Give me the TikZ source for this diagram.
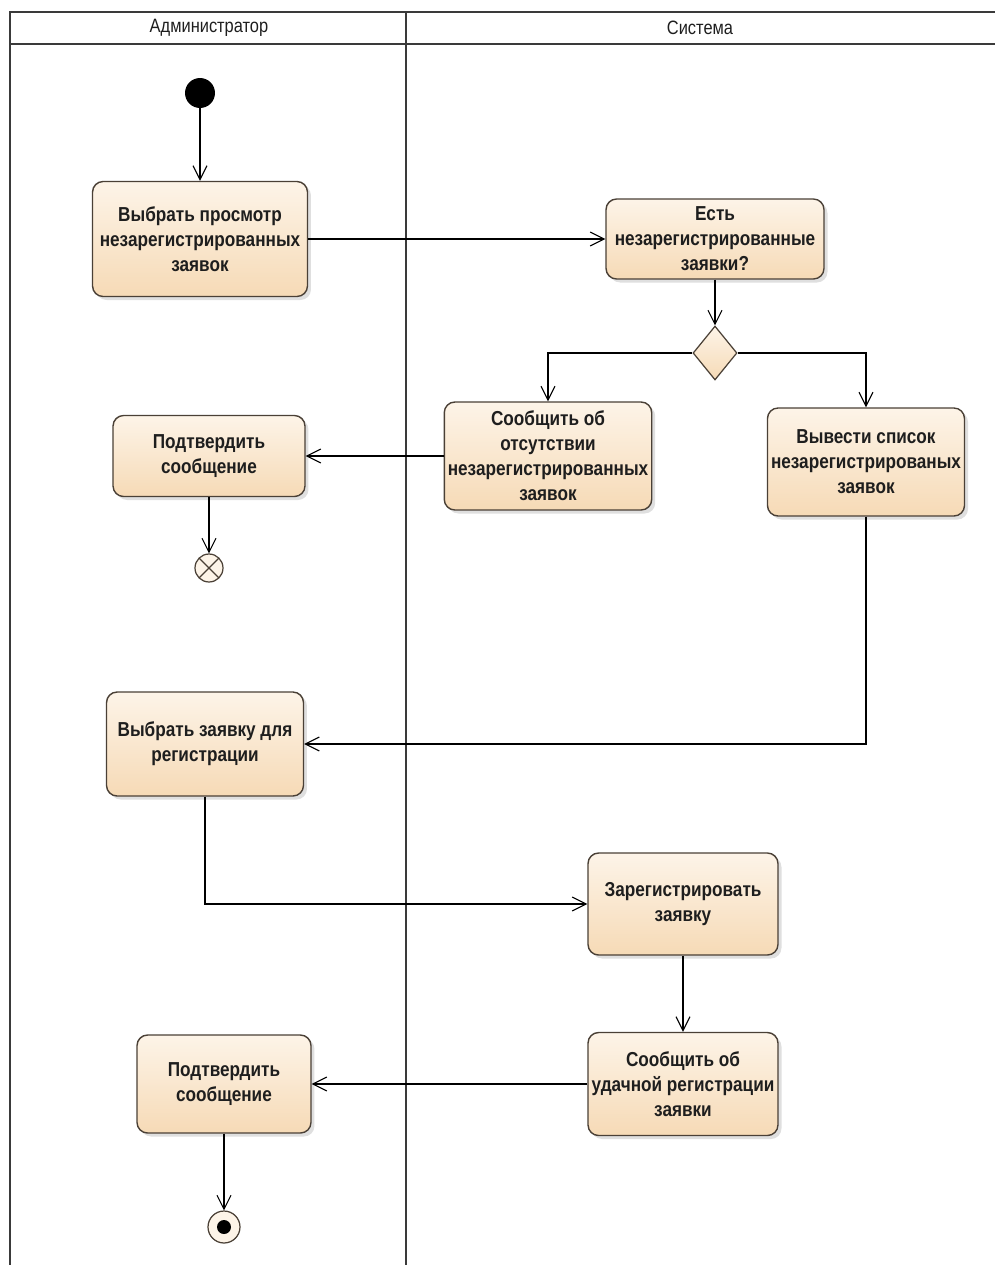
\documentclass[tikz,border=0pt]{standalone}
\usepackage{fontspec}
\setmainfont{Liberation Sans}
\newfontfamily\boxfont[FakeStretch=0.85]{Liberation Sans}
\newfontfamily\headfont[FakeStretch=0.85]{Liberation Sans}
\usetikzlibrary{arrows.meta,shapes.geometric,shadows}
\definecolor{lane}{HTML}{3A3A3A}
\definecolor{edge}{HTML}{4A4036}
\definecolor{peach}{HTML}{F6DAB6}
\definecolor{cream}{HTML}{FDF4E8}
\definecolor{ink}{HTML}{1E1E1E}
\tikzset{act/.style={draw=edge,line width=.8pt,rounded corners=6pt,top color=cream,bottom color=peach,drop shadow={shadow xshift=2pt,shadow yshift=-2pt,opacity=.25},align=center,font=\boxfont\bfseries\fontsize{11.5}{14.2}\selectfont,text=ink,inner sep=2pt},flow/.style={-{Straight Barb[length=2.8mm,width=2.8mm]},draw=black,line width=.6pt},swim/.style={draw=lane,line width=1.1pt}}

\begin{document}
\begin{tikzpicture}[x=.02cm,y=-.02cm,dec/.style={diamond,aspect=.8,draw=edge,line width=.7pt,top color=cream,bottom color=peach,minimum width=.88cm,minimum height=1.08cm,inner sep=0},head/.style={font=\headfont\fontsize{11}{13}\selectfont,text=ink}]
\useasboundingbox (0,0) rectangle (995,1265);
\draw[swim] (10,1265)--(10,12)--(995,12);\draw[swim] (10,44)--(995,44);\draw[swim] (406,12)--(406,1265);
\node[head] (hadm) at (209,28) {Администратор};
\node[head] (hsys) at (700,28) {Система};
\node[circle,fill=black,minimum size=.6cm,inner sep=0] (s) at (200,93) {};
\node[act,minimum width=4.3cm,minimum height=2.3cm] (a1) at (200,239) {Выбрать просмотр\\незарегистрированных\\заявок};
\node[act,minimum width=4.36cm,minimum height=1.6cm] (q) at (715,239) {Есть\\незарегистрированные\\заявки?};
\node[dec] (d) at (715,353) {};
\node[act,minimum width=3.94cm,minimum height=2.16cm] (n) at (548,456) {Сообщить об\\отсутствии\\незарегистрированных\\заявок};
\node[act,minimum width=3.94cm,minimum height=2.16cm] (l) at (866,462) {Вывести список\\незарегистрированых\\заявок};
\node[act,minimum width=3.84cm,minimum height=1.62cm] (c1) at (209,456) {Подтвердить\\сообщение};
\node[circle,draw=edge,line width=.7pt,fill=cream,minimum size=.56cm,inner sep=0,path picture={\draw[edge,line width=.7pt] (path picture bounding box.south west)--(path picture bounding box.north east) (path picture bounding box.north west)--(path picture bounding box.south east);}] (x1) at (209,568) {};
\node[act,minimum width=3.94cm,minimum height=2.08cm] (a3) at (205,744) {Выбрать заявку для\\регистрации};
\node[act,minimum width=3.8cm,minimum height=2.04cm] (r) at (683,904) {Зарегистрировать\\заявку};
\node[act,minimum width=3.8cm,minimum height=2.06cm] (ok) at (683,1084) {Сообщить об\\удачной регистрации\\заявки};
\node[act,minimum width=3.48cm,minimum height=1.96cm] (c2) at (224,1084) {Подтвердить\\сообщение};
\node[circle,draw=edge,line width=.7pt,fill=cream,minimum size=.64cm,inner sep=0,path picture={\fill[black] (path picture bounding box.center) circle (.14cm);}] (e) at (224,1227) {};
\draw[flow] (s)--(a1);\draw[flow] (a1)--(q);\draw[flow] (q)--(d);
\draw[flow] (d.west)-|(n.north);\draw[flow] (d.east)-|(l.north);
\draw[flow] (n)--(c1);\draw[flow] (c1)--(x1);
\draw[flow] (l.south)|-(a3.east);\draw[flow] (a3.south)|-(r.west);
\draw[flow] (r)--(ok);\draw[flow] (ok)--(c2);\draw[flow] (c2)--(e);
\end{tikzpicture}
\end{document}
